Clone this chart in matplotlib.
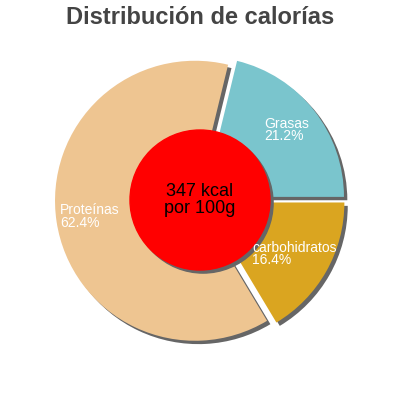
import matplotlib.pyplot as plt
from matplotlib.patches import Circle

plt.rcParams['font.family'] = ['Liberation Sans', 'DejaVu Sans']

# data (counter-clockwise order starting at 3 o'clock)
labels = ["Grasas", "Proteínas", "carbohidratos"]
values = [21.2, 62.4, 16.4]
colors = ["#7ac5cd", "#eec591", "#daa520"]
kcal_text = "347 kcal\npor 100g"
title = "Distribución de calorías"

# label anchors (data units, left aligned)
label_pos = [(0.457, 0.50), (-1.0, -0.121), (0.371, -0.386)]

fig = plt.figure(figsize=(4, 4), dpi=100)
ax = fig.add_axes([0, 0, 1, 1])
lim = 200 / 140

explode = [0.036] * len(values)

# shadow pie first, then the real one
ax.pie(values, explode=explode, colors=["#666666"] * 3, startangle=0,
       counterclock=True, center=(0.024, -0.024), radius=1.0,
       wedgeprops=dict(linewidth=0))
ax.pie(values, explode=explode, colors=colors, startangle=0,
       counterclock=True, radius=1.0, wedgeprops=dict(linewidth=0))
ax.set_xlim(-lim, lim)
ax.set_ylim(-lim, lim)
ax.set_aspect('equal')
ax.axis('off')

for lab, v, (x, y) in zip(labels, values, label_pos):
    ax.text(x, y, f"{lab}\n{v}%", color="white", fontsize=10,
            ha="left", va="center", linespacing=0.9, zorder=8)

ax.add_patch(Circle((0.022, -0.022), 0.5, color="#666666", zorder=5))
ax.add_patch(Circle((0, 0), 0.5, color="#ff0000", zorder=6))
ax.text(0, 0, kcal_text, ha="center", va="center", fontsize=13,
        color="black", zorder=7, linespacing=0.95)

fig.text(0.5, 0.955, title, ha="center", va="center", fontsize=17,
         fontweight="bold", color="#444444")

fig.savefig("out.png", dpi=100)
